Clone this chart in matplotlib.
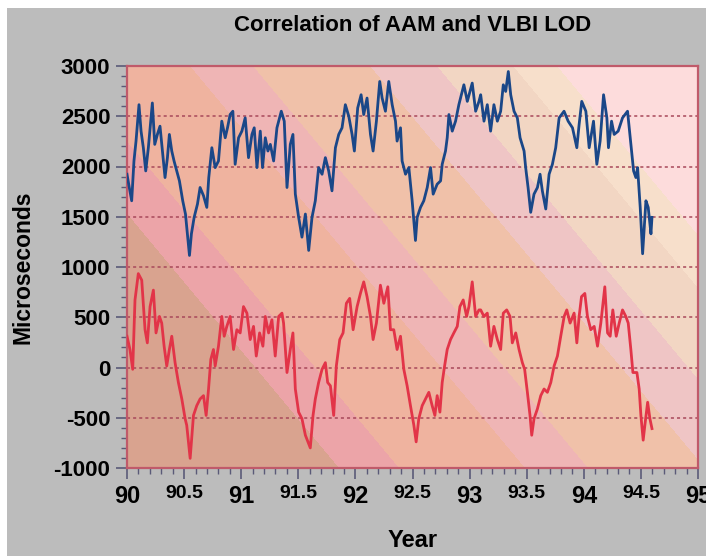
import numpy as np
import matplotlib.pyplot as plt
from matplotlib.ticker import MultipleLocator
from matplotlib.patches import Rectangle

# VLBI LOD (blue, upper curve)
vlbi_year = [90.000, 90.020, 90.041, 90.061, 90.079, 90.105, 90.123, 90.143, 90.164, 90.187,
             90.222, 90.243, 90.266, 90.289, 90.313, 90.333, 90.354, 90.371, 90.392, 90.412,
             90.436, 90.459, 90.488, 90.512, 90.529, 90.547, 90.564, 90.588, 90.617, 90.640,
             90.670, 90.699, 90.716, 90.743, 90.772, 90.801, 90.830, 90.860, 90.880, 90.903,
             90.927, 90.947, 90.977, 91.006, 91.035, 91.064, 91.094, 91.114, 91.138, 91.167,
             91.187, 91.211, 91.234, 91.255, 91.284, 91.313, 91.351, 91.377, 91.401, 91.430,
             91.453, 91.474, 91.503, 91.532, 91.562, 91.591, 91.620, 91.649, 91.678, 91.708,
             91.737, 91.766, 91.795, 91.825, 91.854, 91.883, 91.912, 91.942, 91.971, 91.991,
             92.020, 92.050, 92.073, 92.102, 92.132, 92.155, 92.184, 92.213, 92.234, 92.263,
             92.292, 92.322, 92.351, 92.365, 92.395, 92.409, 92.439, 92.468, 92.497, 92.526,
             92.541, 92.570, 92.599, 92.629, 92.658, 92.681, 92.716, 92.746, 92.760, 92.789,
             92.804, 92.819, 92.848, 92.877, 92.906, 92.950, 92.980, 93.023, 93.053, 93.082,
             93.097, 93.126, 93.155, 93.184, 93.213, 93.243, 93.272, 93.295, 93.316, 93.339,
             93.360, 93.389, 93.418, 93.442, 93.477, 93.491, 93.512, 93.535, 93.564, 93.594,
             93.617, 93.637, 93.667, 93.696, 93.725, 93.754, 93.784, 93.827, 93.863, 93.901,
             93.939, 93.959, 93.982, 94.018, 94.047, 94.085, 94.114, 94.143, 94.173, 94.202,
             94.216, 94.243, 94.266, 94.301, 94.339, 94.383, 94.412, 94.436, 94.456, 94.471,
             94.494, 94.515, 94.544, 94.564, 94.588, 94.597]
vlbi_lod = [1923, 1791, 1659, 2055, 2253, 2615, 2352, 2187, 1956, 2187,
            2632, 2220, 2319, 2401, 2121, 1890, 2088, 2319, 2154, 2055,
            1956, 1857, 1659, 1527, 1330, 1115, 1330, 1494, 1626, 1791,
            1709, 1593, 1890, 2187, 1989, 2055, 2451, 2286, 2385, 2517,
            2550, 2022, 2286, 2352, 2484, 2088, 2319, 2385, 1989, 2352,
            1989, 2286, 2154, 2220, 2055, 2385, 2550, 2451, 1791, 2220,
            2319, 1725, 1494, 1297, 1527, 1165, 1494, 1659, 1989, 1923,
            2088, 1956, 1758, 2187, 2319, 2385, 2615, 2500, 2319, 2154,
            2582, 2714, 2517, 2681, 2319, 2154, 2451, 2846, 2681, 2550,
            2846, 2615, 2451, 2253, 2385, 2055, 1923, 1989, 1659, 1264,
            1494, 1593, 1659, 1791, 1989, 1725, 1824, 1857, 2022, 2154,
            2286, 2517, 2352, 2451, 2615, 2813, 2648, 2830, 2550, 2648,
            2714, 2451, 2615, 2352, 2615, 2451, 2550, 2813, 2747, 2945,
            2714, 2550, 2484, 2286, 2154, 1989, 1791, 1544, 1725, 1791,
            1923, 1758, 1577, 1923, 2022, 2187, 2484, 2550, 2451, 2385,
            2187, 2418, 2648, 2550, 2187, 2451, 2022, 2253, 2714, 2484,
            2187, 2451, 2319, 2352, 2484, 2550, 2220, 1956, 1890, 1989,
            1593, 1132, 1659, 1593, 1330, 1494]

# AAM (red, lower curve)
aam_year = [90.000, 90.026, 90.050, 90.070, 90.099, 90.129, 90.158, 90.178, 90.202, 90.231,
            90.254, 90.284, 90.304, 90.325, 90.348, 90.371, 90.392, 90.421, 90.450, 90.480,
            90.509, 90.523, 90.553, 90.582, 90.611, 90.640, 90.670, 90.693, 90.714, 90.734,
            90.757, 90.772, 90.801, 90.830, 90.851, 90.874, 90.903, 90.933, 90.962, 90.991,
            91.020, 91.050, 91.079, 91.108, 91.132, 91.161, 91.190, 91.211, 91.240, 91.269,
            91.298, 91.328, 91.357, 91.371, 91.401, 91.430, 91.453, 91.474, 91.503, 91.532,
            91.562, 91.605, 91.629, 91.649, 91.678, 91.708, 91.737, 91.757, 91.781, 91.810,
            91.833, 91.863, 91.892, 91.921, 91.950, 91.980, 92.015, 92.044, 92.073, 92.102,
            92.132, 92.155, 92.184, 92.219, 92.249, 92.284, 92.307, 92.336, 92.365, 92.395,
            92.424, 92.453, 92.482, 92.512, 92.532, 92.555, 92.585, 92.614, 92.643, 92.672,
            92.696, 92.716, 92.740, 92.760, 92.781, 92.804, 92.833, 92.862, 92.892, 92.915,
            92.944, 92.974, 92.994, 93.023, 93.053, 93.082, 93.097, 93.126, 93.155, 93.184,
            93.213, 93.243, 93.272, 93.295, 93.325, 93.354, 93.374, 93.404, 93.433, 93.462,
            93.482, 93.506, 93.529, 93.544, 93.564, 93.594, 93.623, 93.652, 93.681, 93.711,
            93.740, 93.769, 93.798, 93.828, 93.851, 93.880, 93.915, 93.939, 93.959, 93.980,
            94.009, 94.032, 94.061, 94.091, 94.120, 94.149, 94.184, 94.208, 94.231, 94.254,
            94.284, 94.310, 94.339, 94.368, 94.389, 94.412, 94.430, 94.465, 94.485, 94.500,
            94.520, 94.538, 94.559, 94.579, 94.597]
aam_lod = [311, 179, -18, 672, 934, 869, 376, 245, 606, 770,
           344, 508, 442, 212, 15, 179, 311, 48, -149, -313,
           -510, -575, -904, -477, -379, -313, -280, -477, -214, 81,
           179, 15, 212, 508, 311, 409, 508, 179, 376, 344,
           606, 541, 278, 409, 114, 344, 212, 508, 344, 475,
           114, 508, 541, 442, -50, 179, 344, -214, -444, -510,
           -674, -800, -477, -313, -149, -18, 48, -149, -182, -477,
           15, 278, 344, 639, 688, 376, 606, 737, 852, 705,
           508, 278, 442, 819, 639, 803, 376, 376, 179, 311,
           -18, -182, -379, -575, -740, -510, -379, -313, -247, -379,
           -477, -280, -444, -149, 15, 179, 278, 344, 409, 606,
           672, 508, 606, 852, 508, 573, 573, 508, 541, 212,
           409, 278, 179, 541, 573, 508, 245, 344, 179, 48,
           -18, -247, -477, -674, -510, -411, -280, -214, -247, -149,
           15, 114, 311, 508, 573, 442, 541, 245, 508, 705,
           737, 508, 376, 409, 212, 442, 803, 344, 311, 573,
           311, 442, 573, 508, 442, 179, -50, -50, -214, -477,
           -723, -543, -346, -510, -608]

# diagonal background bands, lower-left -> upper-right
band_edges = [-51, 9, 135, 198, 315, 382, 458, 502]
band_colors = ['#d9a38f', '#eca4a8', '#efb39f', '#efb5b5', '#f0c1a9',
               '#efc5c5', '#f2d6c3', '#f7dfcb', '#fddcdc']

fig = plt.figure(figsize=(7.06, 5.56), dpi=100)
fig.patch.set_facecolor('white')
fig.add_artist(Rectangle((7 / 706, 0), 1, 548 / 556, transform=fig.transFigure,
                         facecolor='#bcbcbc', edgecolor='none', zorder=-10))

ax = fig.add_axes([127 / 706, 88 / 556, 571 / 706, 402 / 556])

# background: bands slanting down to the right
h, w = 402, 571
rows, cols = np.mgrid[0:h, 0:w]
s = (cols + 127) - (rows + 66) / 1.2
idx = np.digitize(s, band_edges)
rgb = np.array([[int(c[i:i + 2], 16) / 255 for i in (1, 3, 5)] for c in band_colors])
ax.imshow(rgb[idx], extent=[90, 95, -1000, 3000], aspect='auto', zorder=0,
          interpolation='nearest')

ax.plot(vlbi_year, vlbi_lod, color='#1a4788', lw=2.0, zorder=3)
ax.plot(aam_year, aam_lod, color='#e23448', lw=2.0, zorder=3)

ax.set_xlim(90, 95)
ax.set_ylim(-1000, 3000)
ax.yaxis.set_minor_locator(MultipleLocator(100))
ax.xaxis.set_minor_locator(MultipleLocator(0.1))
ax.grid(axis='y', color='#a8485a', linestyle=(0, (2, 2)), lw=1.1, zorder=1)

for sp in ax.spines.values():
    sp.set_color('#c05a6a')
    sp.set_linewidth(1.6)

ax.tick_params(which='major', length=8, width=1.2, color='#5a5a78', pad=4)
ax.tick_params(which='minor', length=4, width=1, color='#5a5a78')

yt = np.arange(-1000, 3001, 500)
ax.set_yticks(yt)
ax.set_yticklabels([str(v) for v in yt], fontfamily='Liberation Sans',
                   fontweight='bold', fontsize=16)
xt = np.arange(90, 95.01, 0.5)
ax.set_xticks(xt)
ax.set_xticklabels(['%g' % v for v in xt], fontfamily='Liberation Sans', fontweight='bold')
for lab, v in zip(ax.get_xticklabels(), xt):
    lab.set_fontsize(17 if v == int(v) else 14)

ax.set_title('Correlation of AAM and VLBI LOD', fontfamily='Liberation Sans',
             fontweight='bold', fontsize=16, pad=25)
ax.set_ylabel('Microseconds', fontfamily='Liberation Sans', fontweight='bold',
              fontsize=16.5, labelpad=14)
ax.set_xlabel('Year', fontfamily='Liberation Sans', fontweight='bold', fontsize=17)
ax.xaxis.set_label_coords(0.5, -0.152)

fig.savefig('out.png', dpi=100)
